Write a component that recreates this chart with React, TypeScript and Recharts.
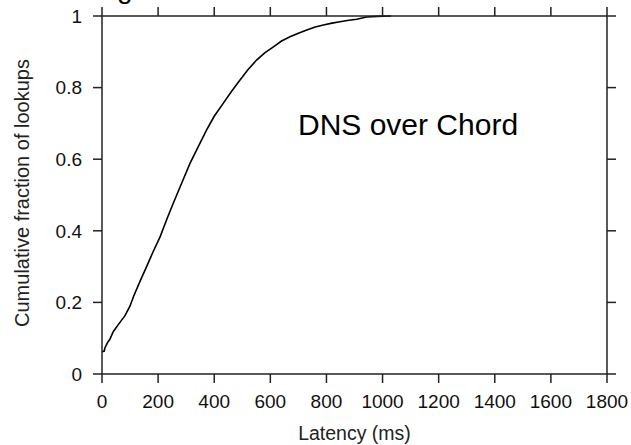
import React from 'react';
import { ComposedChart, Line, Scatter, XAxis, YAxis } from 'recharts';

const latencyMs = [0, 8, 10, 20, 28, 40, 60, 82, 100, 112, 135, 159, 183, 207, 230, 254, 285, 314, 345, 373, 400, 432, 462, 492, 520, 551, 580, 611, 640, 670, 700, 730, 760, 789, 820, 848, 880, 908, 943, 980, 1030];
const cumulativeFraction = [0.062, 0.064, 0.072, 0.088, 0.097, 0.118, 0.14, 0.163, 0.19, 0.216, 0.258, 0.3, 0.343, 0.383, 0.43, 0.477, 0.535, 0.589, 0.638, 0.682, 0.72, 0.756, 0.79, 0.821, 0.85, 0.877, 0.897, 0.914, 0.93, 0.942, 0.952, 0.961, 0.969, 0.975, 0.98, 0.984, 0.988, 0.991, 0.997, 0.999, 1.0];
const xTicks = [0, 200, 400, 600, 800, 1000, 1200, 1400, 1600, 1800];
const yTicks = [0, 0.2, 0.4, 0.6, 0.8, 1];
const xTitle = 'Latency (ms)';
const yTitle = 'Cumulative fraction of lookups';
const annotation = 'DNS over Chord';
const titleFragment = 'g';

const data = latencyMs.map((ms, i) => ({ ms, frac: cumulativeFraction[i] }));
// top frame tick positions (at y = 1, the top of the frame)
const topTickData = xTicks.map((t) => ({ ms: t, frac: 1 }));

const FONT = '"Liberation Sans", Arial, Helvetica, sans-serif';
const AX = '#222';

const yLabelContent = (props: any) => {
  const vb = props.viewBox || {};
  const cx = 22;
  const cy = vb.y + vb.height / 2 - 2;
  return (
    <text x={cx} y={cy} transform={`rotate(-90, ${cx}, ${cy})`} textAnchor="middle" dominantBaseline="central" fontSize={20} fontFamily={FONT} fill="#222">
      {yTitle}
    </text>
  );
};

const xLabelContent = (props: any) => {
  const vb = props.viewBox || {};
  const cx = vb.x + vb.width / 2;
  return (
    <text x={cx} y={440} textAnchor="middle" fontSize={19.5} fontFamily={FONT} fill="#222">
      {xTitle}
    </text>
  );
};

const TopTickShape = (props: any) => {
  const { cx, cy } = props;
  if (cx == null || cy == null) return <g />;
  return <line x1={cx} x2={cx} y1={cy} y2={cy - 9} stroke={AX} strokeWidth={1.5} />;
};

const EmptyTick = () => <g />;

export default function App() {
  return (
    <div style={{ position: 'absolute', left: 0, top: 0, width: 631, height: 445, background: '#fff' }}>
      <ComposedChart width={631} height={445} data={data} margin={{ top: 16, right: 0, left: 0, bottom: 0 }}>
        <XAxis
          xAxisId="bottom"
          dataKey="ms"
          type="number"
          domain={[0, 1800]}
          ticks={xTicks}
          interval={0}
          height={71}
          tickSize={9}
          tickMargin={12}
          axisLine={{ stroke: AX, strokeWidth: 1.5 }}
          tickLine={{ stroke: AX, strokeWidth: 1.5 }}
          tick={{ fill: '#111', fontSize: 19, fontFamily: FONT }}
          label={{ content: xLabelContent }}
        />
        <YAxis
          yAxisId="left"
          type="number"
          domain={[0, 1]}
          ticks={yTicks}
          interval={0}
          width={102}
          tickSize={9}
          tickMargin={11}
          tickFormatter={(v: number) => String(v)}
          axisLine={{ stroke: AX, strokeWidth: 1.5 }}
          tickLine={{ stroke: AX, strokeWidth: 1.5 }}
          tick={{ fill: '#111', fontSize: 19, fontFamily: FONT }}
          label={{ content: yLabelContent }}
        />
        <YAxis
          yAxisId="right"
          orientation="right"
          type="number"
          domain={[0, 1]}
          ticks={yTicks}
          interval={0}
          width={24}
          tickSize={9}
          tickMargin={2}
          axisLine={{ stroke: AX, strokeWidth: 1.5 }}
          tickLine={{ stroke: AX, strokeWidth: 1.5 }}
          tick={<EmptyTick />}
        />
        <Line
          xAxisId="bottom"
          yAxisId="right"
          type="linear"
          dataKey="frac"
          stroke="none"
          strokeWidth={0}
          dot={false}
          activeDot={false}
          legendType="none"
          isAnimationActive={false}
        />
        <Line
          xAxisId="bottom"
          yAxisId="left"
          type="linear"
          dataKey="frac"
          stroke="#000"
          strokeWidth={1.6}
          dot={false}
          isAnimationActive={false}
        />
        {/* top frame line */}
        <Line
          xAxisId="bottom"
          yAxisId="left"
          data={[{ ms: 0, frac: 1 }, { ms: 1800, frac: 1 }]}
          type="linear"
          dataKey="frac"
          stroke={AX}
          strokeWidth={1.5}
          dot={false}
          activeDot={false}
          legendType="none"
          isAnimationActive={false}
        />
        <Scatter
          xAxisId="bottom"
          yAxisId="left"
          data={topTickData}
          dataKey="frac"
          shape={<TopTickShape />}
          legendType="none"
          isAnimationActive={false}
        />
      </ComposedChart>
      <svg width={40} height={8} style={{ position: 'absolute', left: 105, top: 0, pointerEvents: 'none' }}>
        <text x={12} y={-2.5} fontSize={28} fontFamily={FONT} fill="#000">{titleFragment}</text>
      </svg>
      <svg width={260} height={50} style={{ position: 'absolute', left: 290, top: 100, pointerEvents: 'none' }}>
        <text x={8} y={35} fontSize={30} fontFamily={FONT} fill="#000">{annotation}</text>
      </svg>
    </div>
  );
}
